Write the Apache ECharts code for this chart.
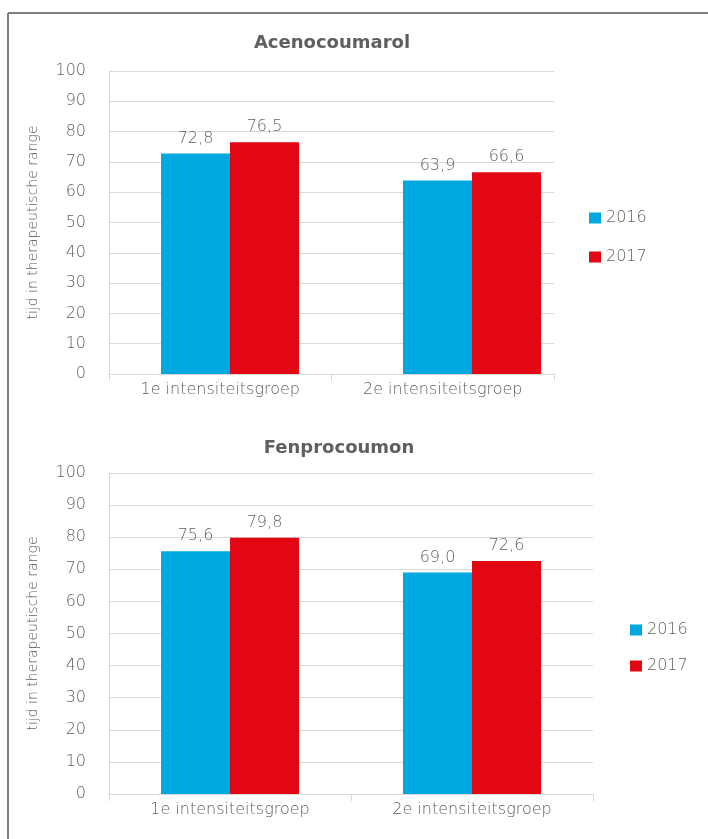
<!DOCTYPE html>
<html lang="nl">
<head>
    <meta charset="utf-8">
    <title>Tijd in therapeutische range</title>
    <script src="https://cdn.jsdelivr.net/npm/echarts@6/dist/echarts.min.js"></script>
    <style>
        html, body { margin: 0; padding: 0; background: #fff; }
        #main { width: 708px; height: 839px; }
    </style>
</head>
<body>
<div id="main"></div>
<script>
    // data
    var categories = ['1e intensiteitsgroep', '2e intensiteitsgroep'];
    var years = ['2016', '2017'];
    var aceno2016 = [72.8, 63.9];
    var aceno2017 = [76.5, 66.6];
    var fenpro2016 = [75.6, 69.0];
    var fenpro2017 = [79.8, 72.6];
    var yMin = 0, yMax = 100, yStep = 10;

    var txt = '#5f5f5f';
    var gridColor = '#d9d9d9';
    var font = '"DejaVu Sans", sans-serif';
    var thin = 300;
    var colors = ['#00a8e0', '#e30613'];

    function fmt(p) {
        return p.value.toFixed(1).replace('.', ',');
    }

    function visibleX(gi, show) {
        return {
            gridIndex: gi, type: 'category', data: categories, show: show,
            axisLine: { lineStyle: { color: gridColor } },
            axisTick: { show: true, length: 7, lineStyle: { color: gridColor } },
            axisLabel: { color: txt, fontSize: 16, fontFamily: font, fontWeight: thin, margin: 8 }
        };
    }

    function visibleY(gi, show) {
        return {
            gridIndex: gi, type: 'value', min: yMin, max: yMax, interval: yStep, show: show,
            name: 'tijd in therapeutische range', nameLocation: 'middle', nameGap: 69,
            nameTextStyle: { color: txt, fontSize: 14, fontFamily: font, fontWeight: thin },
            axisLine: { show: true, lineStyle: { color: gridColor } },
            axisTick: { show: false },
            axisLabel: { color: txt, fontSize: 16, fontFamily: font, fontWeight: thin, margin: 23 },
            splitLine: { lineStyle: { color: gridColor } }
        };
    }

    function bar(name, data, xi, yi, c) {
        return {
            name: name, type: 'bar', data: data, xAxisIndex: xi, yAxisIndex: yi,
            barWidth: 69, barGap: '0%',
            itemStyle: { color: c },
            label: {
                show: true, position: 'top', distance: 7, formatter: fmt,
                color: txt, fontSize: 16, fontFamily: font, fontWeight: thin
            },
            emphasis: { disabled: true }
        };
    }

    function legend(left, top, gap) {
        return {
            data: years, orient: 'vertical', left: left, top: top, padding: 0,
            itemWidth: 12, itemHeight: 11, itemGap: gap, icon: 'rect', selectedMode: false,
            textStyle: { color: txt, fontSize: 16, fontFamily: font, fontWeight: thin, lineHeight: 16 }
        };
    }

    var myChart = echarts.init(document.getElementById('main'));
    var option = {
        animation: false,
        color: colors,
        title: [
            { text: 'Acenocoumarol', left: 332, top: 34, padding: 0, textAlign: 'center',
              textStyle: { color: txt, fontSize: 18, fontWeight: 'bold', fontFamily: font } },
            { text: 'Fenprocoumon', left: 339, top: 439, padding: 0, textAlign: 'center',
              textStyle: { color: txt, fontSize: 18, fontWeight: 'bold', fontFamily: font } }
        ],
        legend: [legend(589, 210, 23), legend(630, 622, 20)],
        grid: [
            // chart 1: axes as drawn
            { left: 109, top: 71, width: 445, height: 303 },
            // chart 1: bar placement (bars sit on a wider band than the axis)
            { left: 109, top: 71, width: 484, height: 303 },
            // chart 2
            { left: 109, top: 473, width: 484, height: 321 }
        ],
        xAxis: [visibleX(0, true), visibleX(1, false), visibleX(2, true)],
        yAxis: [visibleY(0, true), visibleY(1, false), visibleY(2, true)],
        series: [
            bar('2016', aceno2016, 1, 1, colors[0]),
            bar('2017', aceno2017, 1, 1, colors[1]),
            bar('2016', fenpro2016, 2, 2, colors[0]),
            bar('2017', fenpro2017, 2, 2, colors[1])
        ],
        graphic: [
            { type: 'line', shape: { x1: 8, y1: 13, x2: 720, y2: 13 },
              style: { stroke: '#7f7f7f', lineWidth: 2 } },
            { type: 'line', shape: { x1: 8, y1: 13, x2: 8, y2: 850 },
              style: { stroke: '#7f7f7f', lineWidth: 2 } }
        ]
    };
    myChart.setOption(option);
</script>
</body>
</html>
